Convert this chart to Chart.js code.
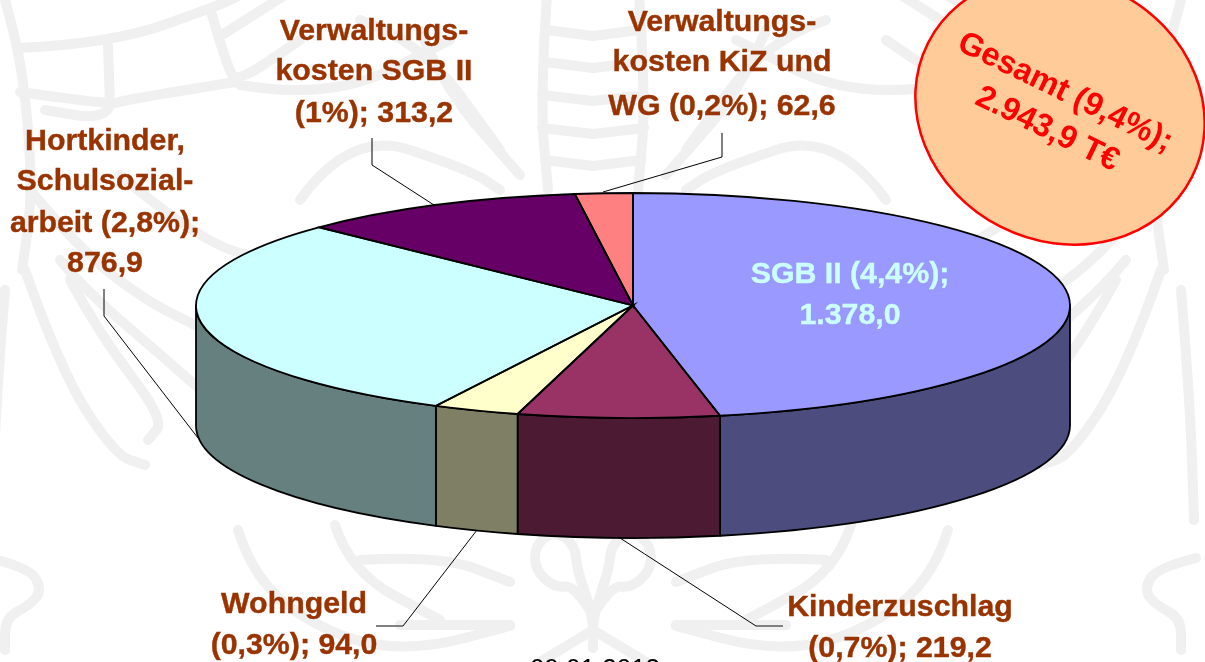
<!DOCTYPE html>
<html lang="de">
<head>
<meta charset="utf-8">
<title>Gesamt 2.943,9 T€</title>
<style>html,body{margin:0;padding:0;background:#fff;overflow:hidden}canvas{display:block}</style>
<script src="https://cdn.jsdelivr.net/npm/chart.js@4"></script>
</head>
<body>
<canvas id="c" width="1205" height="662"></canvas>
<script>
const categories = ["SGB II", "Kinderzuschlag", "Wohngeld", "Hortkinder, Schulsozialarbeit", "Verwaltungskosten SGB II", "Verwaltungskosten KiZ und WG"];
const values = [1378.0, 219.2, 94.0, 876.9, 313.2, 62.6];
const topColors = ["#9999FF", "#993366", "#FFFFCC", "#CCFFFF", "#660066", "#FF8080"];
const sideColors = ["#4C4C7F", "#4D1A33", "#7F7F66", "#668080", "#330033", "#804040"];

const labelBlocks = [
  {lines:["Verwaltungs-","kosten SGB II","(1%); 313,2"], x:374, y:[40,80,122], color:"#993300"},
  {lines:["Verwaltungs-","kosten KiZ und","WG (0,2%); 62,6"], x:722, y:[31,71,115], color:"#993300"},
  {lines:["Hortkinder,","Schulsozial-","arbeit (2,8%);","876,9"], x:105, y:[150,190,232,272], color:"#993300"},
  {lines:["Wohngeld","(0,3%); 94,0"], x:294, y:[613,654], color:"#993300"},
  {lines:["Kinderzuschlag","(0,7%); 219,2"], x:900, y:[616,657], color:"#993300"},
  {lines:["SGB II (4,4%);","1.378,0"], x:850, y:[283,324], color:"#CCFFFF"}
];
const leaders = [
  {pts:[[372,138],[372,165],[434,205]], color:"#000", w:1},
  {pts:[[722,133],[722,157],[603,192]], color:"#000", w:1},
  {pts:[[104,289],[104,316],[198,438]], color:"#000", w:1},
  {pts:[[477,530],[403,626]], color:"#000", w:1},
  {pts:[[403,626],[376,626]], color:"#808080", w:2},
  {pts:[[620,538],[756,626]], color:"#000", w:1},
  {pts:[[756,626],[783,626]], color:"#808080", w:2}
];
const watermarkLeft = [
  [[5,0],[18,45],[28,120],[32,200],[22,270]],
  [[18,48],[110,44],[220,5],[240,-5]],
  [[108,46],[110,105]],
  [[20,92],[110,105],[125,100],[235,82]],
  [[212,15],[228,70],[238,82],[300,40]],
  [[222,35],[285,-5]],
  [[110,105],[105,120],[45,110]],
  [[240,85],[330,100],[450,40]],
  [[30,190],[80,250],[145,300],[195,325]],
  [[120,175],[220,260],[300,250]],
  [[25,270],[60,370],[115,455],[145,465]],
  [[70,280],[100,335],[165,420],[148,440]],
  [[60,260],[85,290],[155,350],[195,385]],
  [[5,290],[-4,400],[-8,520]],
  [[-10,558],[30,568],[42,590],[30,605],[5,618],[5,650]],
  [[238,530],[255,585],[340,640],[420,650],[510,626]],
  [[335,525],[350,572],[440,620]],
  [[360,560],[440,555],[510,582]],
  [[400,625],[510,625]],
  [[300,200],[350,130],[470,170],[500,190]],
  [[420,30],[445,90],[520,175]],
  [[360,20],[420,40],[500,150]],
  [[547,-5],[540,100],[548,190]],
  [[547,30],[593,36]], [[545,62],[593,68]], [[542,95],[593,101]], [[542,128],[593,134]], [[545,160],[593,166]],
  [[593,615],[575,585],[555,588],[535,570],[535,545],[555,530],[575,545],[577,570],[593,615],[593,648]],
  [[593,630],[540,662]]
];
const RX = 437, RY = 112.5, DEPTH = 120;

function smoothPath(c, pts) {
  c.beginPath();
  c.moveTo(pts[0][0], pts[0][1]);
  for (let i = 1; i < pts.length - 1; i++) {
    const mx = (pts[i][0] + pts[i + 1][0]) / 2, my = (pts[i][1] + pts[i + 1][1]) / 2;
    c.quadraticCurveTo(pts[i][0], pts[i][1], mx, my);
  }
  const last = pts[pts.length - 1];
  c.lineTo(last[0], last[1]);
}

const pie3d = {
  id: "pie3d",
  beforeDraw(chart) {
    const c = chart.ctx;
    c.save();
    c.fillStyle = "#fff";
    c.fillRect(0, 0, chart.width, chart.height);
    c.strokeStyle = "#F0F0F0";
    c.lineWidth = 10;
    c.lineJoin = "round";
    c.lineCap = "round";
    const axis = 593;
    for (const mirror of [false, true]) {
      for (const poly of watermarkLeft) {
        smoothPath(c, mirror ? poly.map(p => [2 * axis - p[0], p[1]]) : poly);
        c.stroke();
      }
    }
    c.restore();
  },
  beforeDatasetDraw(chart) {
    const c = chart.ctx, arcs = chart.getDatasetMeta(0).data, a0 = arcs[0];
    c.save();
    c.lineWidth = 1.8;
    c.strokeStyle = "#000";
    c.lineJoin = "round";
    arcs.forEach((a, i) => {
      const from = Math.max(a.startAngle, 0), to = Math.min(a.endAngle, Math.PI);
      if (to <= from) return;
      c.beginPath();
      c.ellipse(a.x, a.y, RX, RY, 0, from, to);
      c.ellipse(a.x, a.y + DEPTH, RX, RY, 0, to, from, true);
      c.closePath();
      c.fillStyle = sideColors[i];
      c.fill();
      c.stroke();
    });
    c.restore();
    c.save();
    c.translate(a0.x, a0.y);
    c.scale(RX / a0.outerRadius, RY / a0.outerRadius);
    c.translate(-a0.x, -a0.y);
  },
  afterDatasetDraw(chart) {
    const c = chart.ctx, arcs = chart.getDatasetMeta(0).data;
    c.restore();
    c.save();
    c.lineWidth = 1.8;
    c.strokeStyle = "#000";
    arcs.forEach(a => {
      c.beginPath();
      c.moveTo(a.x, a.y);
      c.ellipse(a.x, a.y, RX, RY, 0, a.startAngle, a.endAngle);
      c.closePath();
      c.stroke();
    });
    c.restore();
  },
  afterDraw(chart) {
    const c = chart.ctx;
    c.save();
    for (const l of leaders) {
      c.strokeStyle = l.color;
      c.lineWidth = l.w;
      c.beginPath();
      l.pts.forEach((p, i) => i ? c.lineTo(p[0], p[1]) : c.moveTo(p[0], p[1]));
      c.stroke();
    }
    c.textAlign = "center";
    c.textBaseline = "alphabetic";
    c.font = 'bold 30.3px "Liberation Sans", Arial, sans-serif';
    c.lineWidth = 0.4;
    for (const b of labelBlocks) {
      c.fillStyle = b.color;
      c.strokeStyle = b.color;
      b.lines.forEach((t, i) => { c.fillText(t, b.x, b.y[i]); c.strokeText(t, b.x, b.y[i]); });
    }
    c.fillStyle = "#000";
    c.font = '26px "Liberation Sans", Arial, sans-serif';
    c.fillText("09.01.2013", 595, 677);

    const ex = 1060, ey = 110, rot = 27 * Math.PI / 180;
    c.beginPath();
    c.ellipse(ex, ey, 148, 131, rot, 0, 2 * Math.PI);
    c.fillStyle = "#FFCC99";
    c.fill();
    c.strokeStyle = "#FF0000";
    c.lineWidth = 2.5;
    c.stroke();
    c.translate(ex, ey);
    c.rotate(26 * Math.PI / 180);
    c.fillStyle = "#FF0000";
    c.font = 'bold 32.5px "Liberation Sans", Arial, sans-serif';
    c.fillText("Gesamt (9,4%);", -3, -9);
    c.fillText("2.943,9 T€", -3, 32);
    c.restore();
  }
};

new Chart(document.getElementById("c"), {
  type: "pie",
  data: {
    labels: categories,
    datasets: [{ data: values, backgroundColor: topColors, borderWidth: 0, clip: false }]
  },
  options: {
    responsive: false,
    animation: false,
    events: [],
    layout: { padding: { left: 61, right: 0, top: 0, bottom: 51 } },
    plugins: { legend: { display: false }, tooltip: { enabled: false }, title: { display: false } }
  },
  plugins: [pie3d]
});
</script>
</body>
</html>
